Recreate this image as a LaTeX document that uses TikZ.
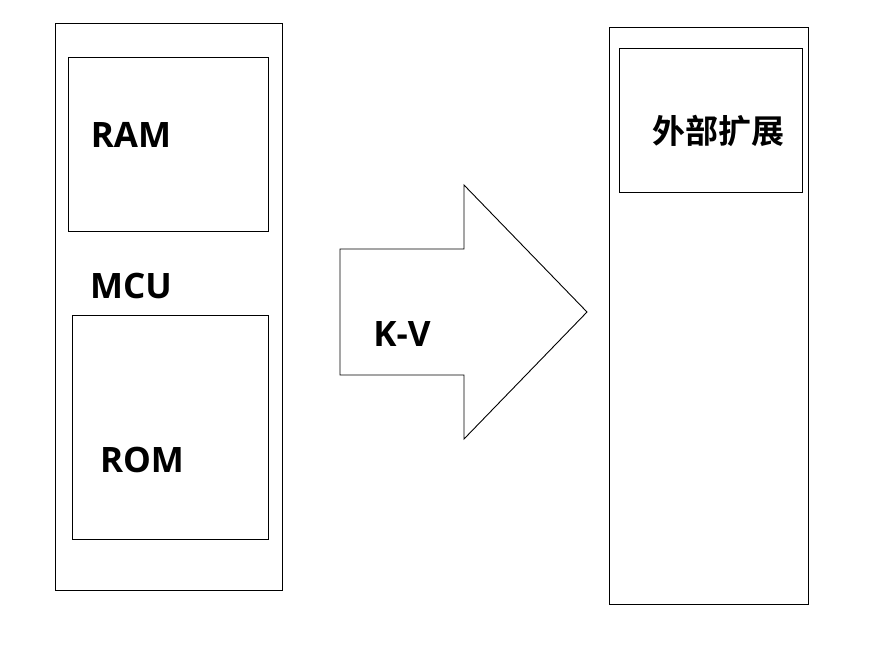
\documentclass[tikz,border=0pt]{standalone}
\usepackage{fontspec}
\setmainfont{Open Sans}
\newfontfamily\cjk{Noto Sans CJK SC}[BoldFont={Noto Sans CJK SC Bold}]

\begin{document}
\begin{tikzpicture} [x=1pt, y=-1pt, line width=0.9pt, lbl/.style= {font=\fontsize{35}{40}\selectfont\bfseries, inner sep=0}, zh/.style= {font=\cjk\fontsize{33}{38}\selectfont\bfseries, inner sep=0}]
\useasboundingbox (0,0) rectangle (870,649);
% MCU side
\draw (55,23) rectangle (282,590);
\draw (68,57) rectangle (268,231);
\draw (72,315) rectangle (268,539);
\node [lbl] (ram) at (131,135) {RAM};
\node [lbl] (mcu) at (131,286) {MCU};
\node [lbl] (rom) at (142,460) {ROM};
% arrow
\draw (340,249) -- (464,249) -- (464,185) -- (587,312) -- (464,439) -- (464,375) -- (340,375) -- cycle;
\node [lbl] (kv) at (402,334) {K-V};
% external side
\draw (609,27) rectangle (808,604);
\draw (619,48) rectangle (802,192);
\node [zh] (ext) at (718,131) {外部扩展};
\end{tikzpicture}
\end{document}
